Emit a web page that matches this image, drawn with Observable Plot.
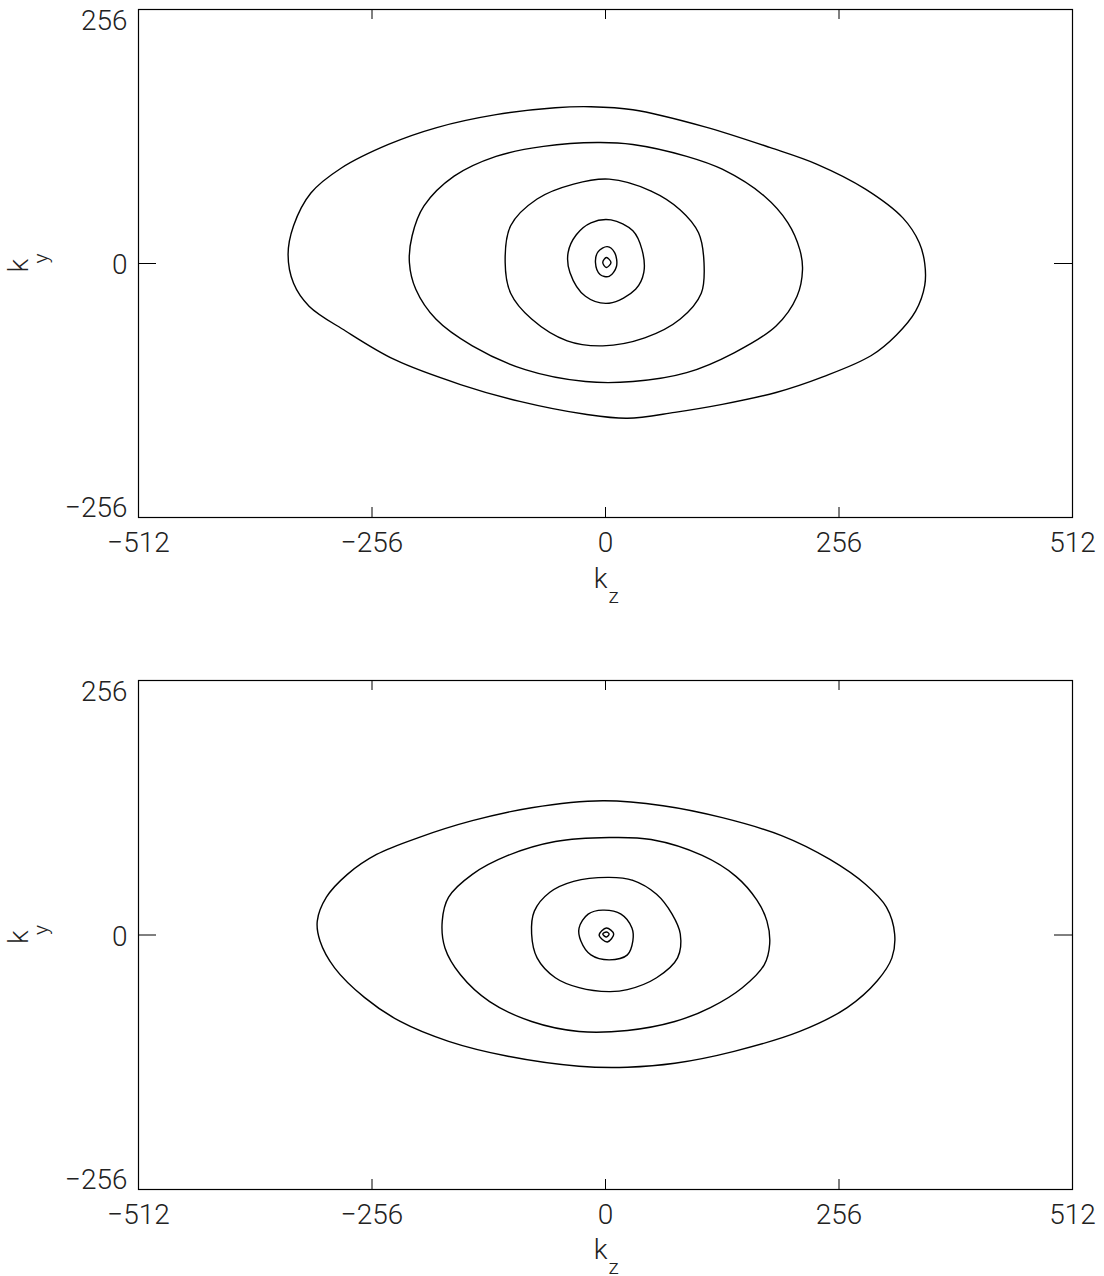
<!DOCTYPE html>
<html><head><meta charset="utf-8">
<script src="https://cdn.jsdelivr.net/npm/d3@7"></script>
<script src="https://cdn.jsdelivr.net/npm/@observablehq/plot@0.6"></script>
<style>body{margin:0;background:#fff} svg{display:block}</style>
</head><body><div id="chart"></div>
<script>
// Axis ticks
const xTicks = [-512, -256, 0, 256, 512];
const yTicks = [-256, 0, 256];
const innerXTicks = [-256, 0, 256];
const innerYTicks = [0];

// Top panel contours (kz, ky)
const topC1 = [[-16,158],[30,155],[108,138],[180,117],[232,100],[285,75],[326,46],[344,21],[350,0],[350,-22],[340,-48],[319,-72],[291,-93],[239,-114],[187,-130],[128,-142],[76,-150],[24,-156],[-22,-152],[-94,-139],[-159,-122],[-231,-97],[-285,-68],[-325,-43],[-342,-20],[-348,9],[-342,38],[-323,71],[-290,96],[-238,120],[-185,137],[-120,150],[-55,157]];
const topC2 = [[-9,122],[30,120],[89,108],[128,95],[174,68],[200,41],[213,14],[216,-6],[210,-33],[187,-63],[141,-90],[89,-110],[30,-119],[-22,-119],[-88,-107],[-146,-83],[-186,-56],[-208,-26],[-215,1],[-212,28],[-199,58],[-166,88],[-120,108],[-68,118]];
const topC3 = [[4,85],[50,73],[82,54],[102,31],[108,1],[105,-30],[82,-56],[43,-75],[-3,-83],[-42,-78],[-81,-56],[-104,-30],[-110,1],[-104,38],[-75,65],[-35,80]];
const topC4 = [[6,44],[30,33],[40,14],[42,-9],[33,-26],[4,-40],[-22,-33],[-39,-9],[-41,11],[-32,29],[-16,41]];
const topC5 = [[2,17],[10,11],[12,-3],[4,-13],[-6,-11],[-11,1],[-8,12]];
const topC6 = [[1,6],[6,1],[1,-4],[-3,1]];

// Bottom panel contours
const botC1 = [[-3,135],[63,130],[128,118],[193,100],[246,76],[285,51],[308,28],[317,1],[314,-23],[298,-46],[265,-73],[213,-97],[141,-117],[76,-129],[24,-133],[-29,-132],[-107,-122],[-172,-107],[-225,-87],[-264,-63],[-297,-33],[-313,-6],[-316,14],[-306,38],[-283,61],[-251,81],[-205,98],[-146,115],[-81,128]];
const botC2 = [[4,98],[50,96],[106,80],[143,59],[166,35],[177,14],[180,-9],[174,-30],[150,-53],[115,-73],[76,-87],[24,-96],[-29,-97],[-81,-87],[-127,-67],[-159,-40],[-176,-13],[-179,14],[-172,38],[-146,61],[-107,80],[-55,94]];
const botC3 = [[4,58],[30,55],[56,41],[73,21],[82,1],[79,-23],[56,-43],[24,-55],[4,-57],[-29,-53],[-55,-43],[-75,-23],[-81,1],[-78,24],[-61,43],[-35,54]];
const botC4 = [[-3,25],[17,21],[29,7],[30,-6],[24,-20],[4,-25],[-16,-20],[-27,-6],[-29,7],[-19,21]];
const botC5 = [[1,7],[9,1],[2,-7],[-7,0]];
const botC6 = [[1,3],[4,1],[1,-2],[-3,1]];

const FONT = "Roboto, 'Liberation Sans', sans-serif";

function rows(list) {
  return list.flatMap((c, i) => c.map(([kz, ky]) => ({id: i, kz, ky})));
}

function panel(contours, height, marginBottom, kzDy, zDy) {
  const mt = 9, ml = 138, mr = 32;
  const innerH = height - mt - marginBottom;
  const innerW = 1104 - ml - mr;
  return Plot.plot({
    width: 1104, height, marginTop: mt, marginLeft: ml, marginRight: mr, marginBottom,
    x: {domain: [-512, 512]},
    y: {domain: [-256, 256]},
    style: {fontFamily: FONT, fontSize: "28px", fontWeight: 300, color: "#222", background: "white", overflow: "visible"},
    marks: [
      Plot.line(rows(contours), {x: "kz", y: "ky", z: "id", curve: "catmull-rom-closed", stroke: "black", strokeWidth: 1.4}),
      Plot.frame({stroke: "black", strokeWidth: 1.2}),
      Plot.tickX(innerXTicks, {x: d => d, insetBottom: innerH - 10, stroke: "black"}),
      Plot.tickX(innerXTicks, {x: d => d, insetTop: innerH - 10, stroke: "black"}),
      Plot.tickY(innerYTicks, {y: d => d, insetRight: innerW - 18, stroke: "black"}),
      Plot.tickY(innerYTicks, {y: d => d, insetLeft: innerW - 18, stroke: "black"}),
      Plot.axisX({ticks: xTicks, tickSize: 0, tickPadding: 15, label: null}),
      Plot.axisY({ticks: [yTicks[2]], tickSize: 0, tickPadding: 11, dy: 12, label: null}),
      Plot.axisY({ticks: [yTicks[1]], tickSize: 0, tickPadding: 11, dy: 2, label: null}),
      Plot.axisY({ticks: [yTicks[0]], tickSize: 0, tickPadding: 11, dy: -9, label: null}),
      Plot.text(["k"], {text: d => d, frameAnchor: "bottom", dx: -5, dy: kzDy, lineAnchor: "bottom", fontSize: 28}),
      Plot.text(["z"], {text: d => d, frameAnchor: "bottom", dx: 8, dy: zDy, lineAnchor: "bottom", fontSize: 21}),
      Plot.text(["k"], {text: d => d, frameAnchor: "left", dx: -119, dy: 9, rotate: -90, fontSize: 28}),
      Plot.text(["y"], {text: d => d, frameAnchor: "left", dx: -97, dy: 0, rotate: -90, fontSize: 21})
    ]
  });
}

const root = document.getElementById("chart");
root.append(panel([topC1, topC2, topC3, topC4, topC5, topC6], 671, 154, 70, 85));
root.append(panel([botC1, botC2, botC3, botC4, botC5, botC6], 605, 87, 69, 84));
</script>
</body></html>
